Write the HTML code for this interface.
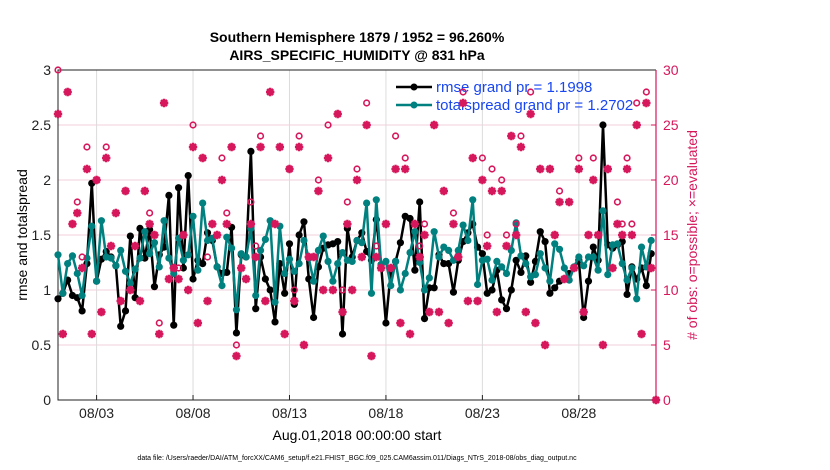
<!DOCTYPE html>
<html><head><meta charset="utf-8"><style>
html,body{margin:0;padding:0;background:#fff;}
svg{display:block;font-family:"Liberation Sans",Arial,sans-serif;}
</style></head><body>
<svg id="chart" width="830" height="470" viewBox="0 0 830 470" xmlns="http://www.w3.org/2000/svg">
<rect width="830" height="470" fill="#fff"/>
<text x="357" y="42" font-size="14" font-weight="bold" text-anchor="middle">Southern Hemisphere 1879 / 1952 = 96.260%</text>
<text x="357" y="60" font-size="14" font-weight="bold" text-anchor="middle">AIRS_SPECIFIC_HUMIDITY @ 831 hPa</text>
<g id="grid"></g>
<g id="axes"></g>
<g id="legend"></g>
<g id="series"></g>
<text transform="translate(27,235) rotate(-90)" font-size="14" text-anchor="middle">rmse and totalspread</text>
<text transform="translate(697,235) rotate(-90)" font-size="14" fill="#d6175c" text-anchor="middle"># of obs: o=possible; ×=evaluated</text>
<text x="357" y="440" font-size="14" text-anchor="middle">Aug.01,2018 00:00:00 start</text>
<text x="357" y="460" font-size="7" text-anchor="middle">data file: /Users/raeder/DAI/ATM_forcXX/CAM6_setup/f.e21.FHIST_BGC.f09_025.CAM6assim.011/Diags_NTrS_2018-08/obs_diag_output.nc</text>
</svg>
<script>
const rmse = [0.92,0.97,1.09,0.95,0.93,0.81,1.24,1.97,1.08,1.28,1.35,1.30,1.22,0.67,0.81,1.49,0.93,1.56,1.29,1.55,1.03,1.32,
1.39,1.86,0.68,1.93,1.20,2.04,1.10,1.27,1.24,1.52,1.45,1.21,1.15,1.16,1.57,0.61,1.32,1.30,2.26,0.83,
1.30,1.10,1.00,0.71,1.24,0.97,1.42,0.87,1.50,1.62,1.10,0.75,1.21,1.38,1.41,1.42,1.44,0.60,1.56,1.30,1.45,
1.52,1.35,1.27,1.64,1.23,0.70,1.17,1.26,1.43,1.67,1.65,1.18,1.80,0.74,1.02,1.02,1.32,1.24,1.24,0.98,1.27,
1.44,1.52,1.60,1.39,1.33,0.97,1.00,1.18,0.91,0.83,1.00,1.27,1.16,1.31,1.07,1.26,1.53,1.44,
0.97,1.02,1.08,1.10,1.15,1.20,1.27,0.75,1.08,1.39,1.27,2.50,1.41,1.38,1.41,1.44,0.96,1.21,1.10,1.20,1.04,1.33];
const spread = [1.32,0.97,1.24,1.31,1.15,0.95,1.29,1.58,1.08,1.63,1.30,1.29,1.22,1.36,1.17,1.06,1.19,1.29,1.53,1.33,1.43,1.21,
1.63,1.29,1.15,1.47,1.27,1.32,1.67,1.18,1.79,1.45,1.47,1.21,1.04,1.48,1.38,0.82,1.33,1.30,1.56,0.95,
1.36,1.46,1.63,0.89,1.58,1.15,1.28,1.17,1.24,1.45,1.29,1.08,1.36,1.49,1.26,1.08,1.24,1.34,1.27,1.26,1.45,
1.43,1.79,0.97,1.82,1.23,1.26,1.04,1.26,1.00,1.15,1.34,1.53,1.25,1.00,1.11,1.53,1.30,1.39,1.36,1.27,1.36,
1.59,1.45,1.82,1.05,1.27,1.28,1.09,1.26,1.21,1.15,1.36,1.61,1.31,1.24,1.12,1.14,1.33,1.20,
1.08,1.42,1.37,1.20,1.09,1.21,1.30,1.22,1.30,1.30,1.18,1.72,1.14,1.41,1.42,1.24,1.09,1.20,0.92,1.39,1.21,1.45];
const possible = [30,6,28,16,18,13,23,6,20,8,23,14,17,9,19,10,14,9,19,17,15,7,
27,11,12,12,15,10,25,7,22,13,16,15,22,17,23,5,12,11,18,14,
24,9,28,16,23,6,21,10,24,5,13,13,20,10,25,10,26,10,18,10,21,
13,27,4,14,12,16,12,24,7,22,6,16,14,16,8,25,8,19,7,17,13,
28,9,22,9,22,15,21,8,20,15,24,16,24,8,28,7,21,5,
21,15,19,11,18,12,22,8,15,22,15,5,21,12,18,16,22,16,27,6,28,12,0];
const evaluated = [26,6,28,16,17,12,21,6,20,8,22,14,17,9,19,10,14,9,19,16,15,6,
27,11,12,11,15,10,23,7,22,9,16,15,20,16,23,4,12,11,16,13,
23,9,28,16,23,6,21,9,23,5,13,13,19,10,22,10,26,8,16,10,20,
13,25,4,13,12,16,12,21,7,21,6,16,13,15,8,25,8,19,7,16,13,
27,9,22,9,20,14,19,8,19,14,24,15,23,8,26,7,21,5,
21,15,18,11,18,12,21,8,15,20,15,5,21,12,16,15,21,15,25,6,27,12,0];
const xTickDays = [3,8,13,18,23,28];
const xTickLabels = ["08/03","08/08","08/13","08/18","08/23","08/28"];
const yTicks = [0,0.5,1,1.5,2,2.5,3];
const y2Ticks = [0,5,10,15,20,25,30];

const X0=58,X1=656,Y0=400,Y1=70, DMIN=1, DMAX=32;
const xs = d => X0 + (d-DMIN)/(DMAX-DMIN)*(X1-X0);
const ys = v => Y0 - v/3*(Y0-Y1);
const ys2 = v => Y0 - v/30*(Y0-Y1);
const dayOf = i => DMIN + i*0.25;
const NS="http://www.w3.org/2000/svg";
const RED="#d6175c", TEAL="#00807f";
function mk(tag, attrs, parent){const e=document.createElementNS(NS,tag);for(const k in attrs)e.setAttribute(k,attrs[k]);parent.appendChild(e);return e;}
const grid=document.getElementById('grid'), axes=document.getElementById('axes'), ser=document.getElementById('series'), leg=document.getElementById('legend');

yTicks.forEach(v=>{ if(v>0&&v<3){const l=mk('line',{x1:X0,x2:X1,y1:ys(v),y2:ys(v),stroke:"#f3cfdc","stroke-width":1},grid);

}});
xTickDays.forEach((d,i)=>{const l=mk('line',{x1:xs(d),x2:xs(d),y1:Y1,y2:Y0,stroke:"#dcdcdc","stroke-width":1},grid);


const t=mk('line',{x1:xs(d),x2:xs(d),y1:Y0,y2:Y0-5,stroke:"#222"},axes);


const tt=mk('text',{x:xs(d),y:418,"font-size":14,"text-anchor":"middle",fill:"#222"},axes);
tt.textContent=xTickLabels[i];

});
yTicks.forEach(v=>{const t=mk('text',{x:X0-7,y:ys(v)+5,"font-size":14,"text-anchor":"end",fill:"#222"},axes);
t.textContent=String(v);

});
y2Ticks.forEach(v=>{const t=mk('text',{x:X1+7,y:ys2(v)+5,"font-size":14,"text-anchor":"start",fill:RED},axes);
t.textContent=String(v);


const k=mk('line',{x1:X1,x2:X1-5,y1:ys2(v),y2:ys2(v),stroke:RED},axes);

});
const box=mk('path',{d:`M${X1},${Y1} L${X0},${Y1} L${X0},${Y0} L${X1},${Y0}`,fill:"none",stroke:"#222","stroke-width":1},axes);


const rax=mk('line',{x1:X1,x2:X1,y1:Y1,y2:Y0,stroke:RED,"stroke-width":1.2},axes);



// legend
[["rmse grand pr = 1.1998","#000",92,"legend-rmse"],["totalspread grand pr = 1.2702",TEAL,110,"legend-totalspread"]].forEach(r=>{
const g=mk('g',{},leg);


mk('line',{x1:396,x2:432,y1:r[2]-5,y2:r[2]-5,stroke:r[1],"stroke-width":2.5},g);
mk('circle',{cx:414,cy:r[2]-5,r:3.5,fill:r[1]},g);
const t=mk('text',{x:436,y:r[2],"font-size":15,fill:"#1846f0"},g);t.textContent=r[0];});

function drawLine(vals,color,name){
const pts=vals.map((v,i)=>xs(dayOf(i)).toFixed(1)+","+ys(v).toFixed(1)).join(" ");
const pl=mk('polyline',{points:pts,fill:"none",stroke:color,"stroke-width":2.5,"stroke-linejoin":"round"},ser);


vals.forEach((v,i)=>{const c=mk('circle',{cx:xs(dayOf(i)),cy:ys(v),r:3.6,fill:color},ser);

});}
drawLine(rmse,"#000","rmse");
drawLine(spread,TEAL,"totalspread");

possible.forEach((v,i)=>{const c=mk('circle',{cx:xs(dayOf(i)),cy:ys2(v),r:2.8,fill:"none",stroke:RED,"stroke-width":1.6},ser);

});
evaluated.forEach((v,i)=>{const x=xs(dayOf(i)),y=ys2(v),s=4.2,d2=s*0.72;
const p=mk('path',{d:`M${x-s},${y}H${x+s}M${x},${y-s}V${y+s}M${x-d2},${y-d2}L${x+d2},${y+d2}M${x-d2},${y+d2}L${x+d2},${y-d2}`,stroke:RED,"stroke-width":2.4,fill:"none"},ser);

});
</script>
</body></html>
